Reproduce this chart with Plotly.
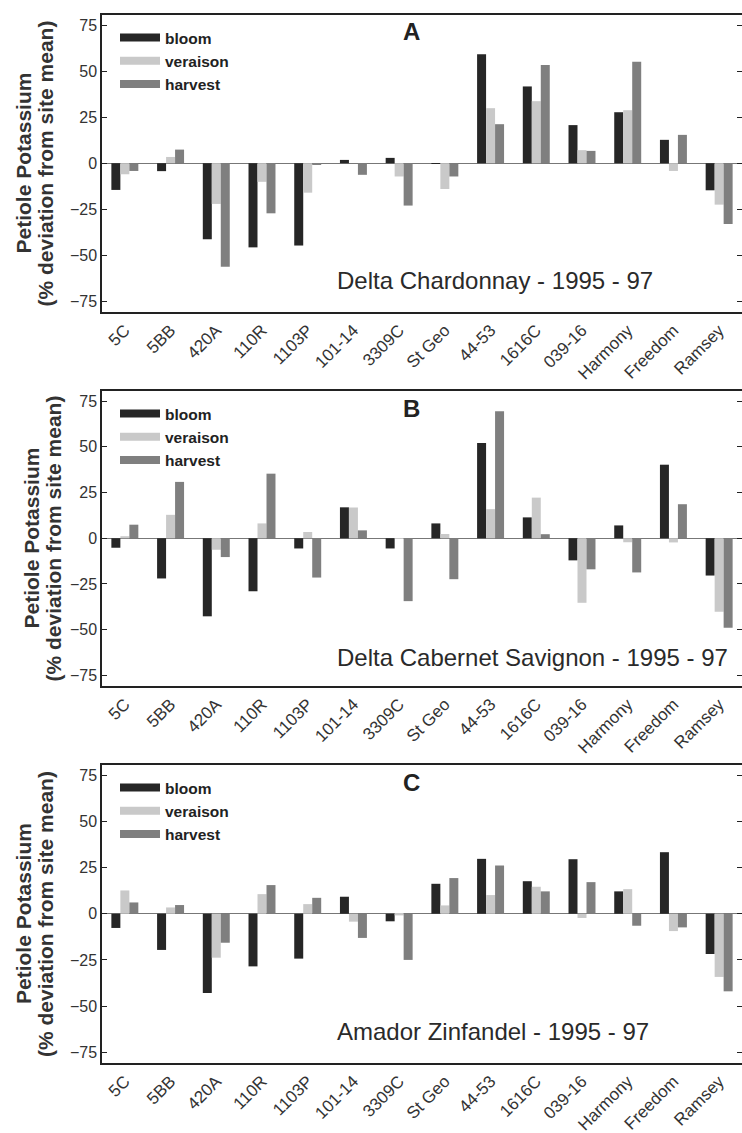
import plotly.graph_objects as go

rootstocks = ["5C", "5BB", "420A", "110R", "1103P", "101-14", "3309C", "St Geo",
              "44-53", "1616C", "039-16", "Harmony", "Freedom", "Ramsey"]
stages = ["bloom", "veraison", "harvest"]
stage_colors = ["#262626", "#c9c9c9", "#7f7f7f"]

# Panel A: Delta Chardonnay
a_bloom = [-14.5, -4.3, -41.3, -45.7, -44.7, 1.8, 2.9, -0.4, 59.2, 41.7, 20.7, 27.7, 12.7, -14.7]
a_veraison = [-6.0, 3.4, -22.1, -10.1, -16.0, 0.0, -7.2, -14.0, 29.9, 33.7, 7.1, 28.8, -4.2, -22.5]
a_harvest = [-4.2, 7.4, -56.2, -27.2, -0.5, -6.3, -23.0, -7.2, 21.2, 53.3, 6.7, 55.1, 15.4, -33.0]

# Panel B: Delta Cabernet Savignon
b_bloom = [-5.2, -22.0, -42.7, -29.0, -5.6, 16.9, -5.6, 8.1, 52.1, 11.4, -12.1, 7.0, 40.2, -20.4]
b_veraison = [1.1, 12.8, -6.3, 8.1, 3.4, 16.8, -0.3, 2.3, 15.9, 22.2, -35.3, -2.2, -2.3, -40.2]
b_harvest = [7.4, 30.8, -10.3, 35.3, -21.5, 4.3, -34.4, -22.4, 69.4, 2.2, -17.0, -18.7, 18.6, -48.9]

# Panel C: Amador Zinfandel
c_bloom = [-7.7, -19.6, -42.9, -28.5, -24.3, 9.2, -4.1, 16.2, 29.7, 17.6, 29.5, 12.1, 33.3, -21.8]
c_veraison = [12.6, 3.4, -23.8, 10.6, 5.2, -4.3, -0.9, 4.5, 10.1, 14.6, -2.3, 13.3, -9.4, -34.2]
c_harvest = [6.1, 4.7, -15.7, 15.5, 8.6, -13.1, -25.0, 19.3, 26.1, 12.1, 17.1, -6.5, -7.4, -42.0]

panel_letters = ["A", "B", "C"]
panel_titles = ["Delta Chardonnay - 1995 - 97",
                "Delta Cabernet Savignon - 1995 - 97",
                "Amador Zinfandel - 1995 - 97"]
yticks = [-75, -50, -25, 0, 25, 50, 75]

panels = [
    [a_bloom, a_veraison, a_harvest],
    [b_bloom, b_veraison, b_harvest],
    [c_bloom, c_veraison, c_harvest],
]

W, H = 742, 1133
ML, MR, MT, MB = 102, 0, 15, 70
panel_px = [(15, 312), (391, 686), (765, 1063)]
plot_h = H - MT - MB
plot_w = W - ML - MR

def to_paper(py):
    return (H - MB - py) / plot_h

FONT = "Liberation Sans, Arial, sans-serif"
fig = go.Figure()
legend_names = ["legend", "legend2", "legend3"]

for p, series in enumerate(panels):
    xa = "x" if p == 0 else f"x{p+1}"
    ya = "y" if p == 0 else f"y{p+1}"
    for s, vals in enumerate(series):
        fig.add_trace(go.Bar(
            x=rootstocks, y=vals, name=stages[s],
            marker=dict(color=stage_colors[s], line=dict(width=0)),
            xaxis=xa, yaxis=ya, showlegend=False,
        ))
    for s in range(3):
        fig.add_trace(go.Scatter(
            x=[None], y=[None], mode="lines", name=f"<b>{stages[s]}</b>",
            line=dict(color=stage_colors[s], width=8),
            xaxis=xa, yaxis=ya, legend=legend_names[p], showlegend=True,
        ))

axis_common_x = dict(
    type="category", showline=True, linecolor="#222", linewidth=1.5, mirror=True,
    ticks="", tickangle=-45, tickfont=dict(family=FONT, size=17, color="#333"),
    showgrid=False, zeroline=False, range=[-0.5, 13.5], automargin=False,
)
axis_common_y = dict(
    range=[-80.8, 80.5], tickvals=yticks, ticks="inside", ticklen=5, tickwidth=1.3,
    tickcolor="#222", showline=True, linecolor="#222", linewidth=1.5, mirror="ticks",
    tickfont=dict(family=FONT, size=16, color="#333"), automargin=False,
    showgrid=False, zeroline=True, zerolinecolor="#777", zerolinewidth=1,
)

layout = dict(
    width=W, height=H, margin=dict(l=ML, r=MR, t=MT, b=MB, autoexpand=False),
    paper_bgcolor="white", plot_bgcolor="white", template="none",
    barmode="group", bargap=0.41, bargroupgap=0,
    font=dict(family=FONT, color="#333"),
)

annotations = []
title_x = [(23, 45), (31, 53), (23, 45)]
for p in range(3):
    top, bot = panel_px[p]
    xk = "xaxis" if p == 0 else f"xaxis{p+1}"
    yk = "yaxis" if p == 0 else f"yaxis{p+1}"
    ya = "y" if p == 0 else f"y{p+1}"
    layout[xk] = dict(axis_common_x, domain=[0, 1], anchor=ya)
    layout[yk] = dict(axis_common_y, domain=[to_paper(bot), to_paper(top)],
                      anchor="x" if p == 0 else f"x{p+1}")
    ph = bot - top
    xd = "x domain" if p == 0 else f"x{p+1} domain"
    yd = "y domain" if p == 0 else f"y{p+1} domain"
    annotations.append(dict(
        text=f"<b>{panel_letters[p]}</b>", xref=xd, yref=yd,
        x=(411 - ML) / plot_w, y=1 - 17 / ph, xanchor="center", yanchor="middle",
        showarrow=False, font=dict(family=FONT, size=24, color="#222"),
    ))
    annotations.append(dict(
        text=panel_titles[p], xref=xd, yref=yd,
        x=(335 - ML) / plot_w, y=1 - 266 / ph, xanchor="left", yanchor="middle",
        showarrow=False, font=dict(family=FONT, size=24, color="#2a2a2a"),
    ))
    annotations.append(dict(
        text="<b>Petiole Potassium</b>", xref="paper", yref=yd,
        x=(title_x[p][0] - ML) / plot_w, y=0.5, textangle=-90,
        xanchor="center", yanchor="middle", showarrow=False,
        font=dict(family=FONT, size=21, color="#333"),
    ))
    annotations.append(dict(
        text="<b>(% deviation from site mean)</b>", xref="paper", yref=yd,
        x=(title_x[p][1] - ML) / plot_w, y=0.5, textangle=-90,
        xanchor="center", yanchor="middle", showarrow=False,
        font=dict(family=FONT, size=21, color="#333"),
    ))
    layout[legend_names[p]] = dict(
        x=13 / plot_w, y=to_paper(top) - 6 / plot_h, xref="paper", yref="paper",
        xanchor="left", yanchor="top", bgcolor="rgba(0,0,0,0)",
        font=dict(family=FONT, size=15.5, color="#222"), tracegroupgap=0,
        itemwidth=40,
    )

layout["annotations"] = annotations
fig.update_layout(**layout)

fig.write_html("out.html", config={"displayModeBar": False},
               post_script="document.body.style.margin='0px';")
